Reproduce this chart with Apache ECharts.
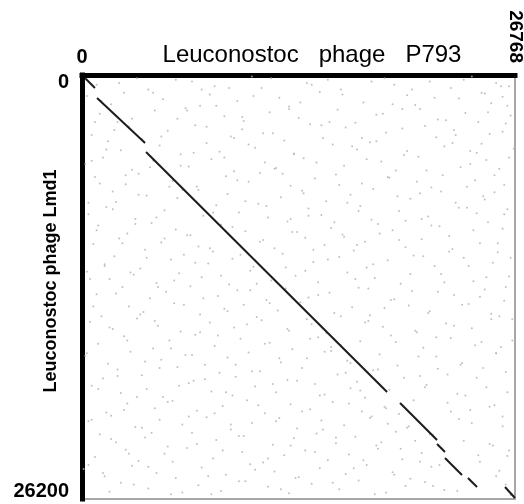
<!DOCTYPE html>
<html>
<head>
<meta charset="utf-8">
<script src="https://cdn.jsdelivr.net/npm/echarts@6/dist/echarts.min.js"></script>
<style>
  html, body { margin: 0; padding: 0; background: #fff; }
  #chart { width: 524px; height: 504px; }
</style>
</head>
<body>
<div id="chart"></div>
<script>
// Dot plot of two Leuconostoc phage genomes (positions in bp)
const queryName = 'Leuconostoc   phage   P793';
const subjectName = 'Leuconostoc phage Lmd1';
const queryLength = 26768;
const subjectLength = 26200;
const xTickLabels = ['0', '26768'];
const yTickLabels = ['0', '26200'];

// Collinear hit segments: start and end as [query bp, subject bp]
const matchStart = [
  [200, 200], [930, 1420], [3960, 4760], [19660, 20270],
  [21950, 22800], [22440, 23670], [23860, 24900], [26150, 25460]
];
const matchEnd = [
  [800, 800], [3900, 4200], [18860, 19590], [21950, 22550],
  [22440, 23300], [23490, 24720], [24420, 25460], [26768, 26140]
];

// Short background word hits, [query kb, subject kb]
const backgroundHitsKb = [
  [2.3,0.5],[5.8,0.3],[9.1,0.8],[11.7,0.2],[14.2,0.6],[17.9,0.4],[20.4,0.9],[23.6,0.3],[25.9,0.7],[7.4,0.9],
  [1.2,1.6],[4.4,1.1],[8.3,1.9],[10.6,1.3],[13.5,1.7],[16.1,1.2],[19.2,1.8],[21.8,1.4],[24.7,1.1],[26.3,1.9],
  [3.1,2.7],[6.5,2.2],[9.9,2.6],[12.8,2.1],[15.3,2.9],[18.6,2.4],[22.5,2.8],[25.1,2.3],[0.8,2.9],[20.9,2.1],
  [2.0,3.4],[4.9,3.8],[7.7,3.2],[11.2,3.6],[14.8,3.1],[17.3,3.9],[19.8,3.3],[23.1,3.7],[26.0,3.5],[9.4,3.9],
  [1.5,4.6],[3.8,4.1],[6.9,4.8],[10.3,4.3],[13.1,4.9],[16.7,4.4],[20.1,4.7],[22.9,4.2],[24.4,4.8],[18.2,4.1],
  [0.6,5.3],[4.2,5.7],[8.8,5.1],[11.9,5.8],[14.5,5.4],[17.6,5.2],[21.3,5.9],[24.0,5.5],[26.4,5.1],[6.1,5.6],
  [2.7,6.2],[5.4,6.9],[9.6,6.5],[12.4,6.1],[15.9,6.8],[18.9,6.3],[20.7,6.6],[23.8,6.9],[25.5,6.2],[1.1,6.7],
  [3.5,7.4],[7.2,7.1],[10.1,7.8],[13.7,7.3],[16.4,7.9],[19.5,7.5],[22.2,7.2],[24.9,7.7],[0.4,7.9],[5.9,7.6],
  [1.9,8.3],[4.6,8.8],[8.1,8.5],[11.4,8.1],[14.0,8.7],[17.1,8.4],[21.0,8.9],[23.3,8.2],[26.1,8.6],[12.9,8.9],
  [0.9,9.6],[3.3,9.2],[6.7,9.9],[9.3,9.4],[13.0,9.7],[15.6,9.1],[18.4,9.8],[21.6,9.3],[24.2,9.6],[20.0,9.0],
  [2.5,10.4],[5.1,10.1],[7.9,10.7],[11.0,10.3],[14.3,10.8],[17.0,10.5],[19.6,10.2],[22.7,10.9],[25.7,10.4],[16.2,10.0],
  [1.4,11.8],[4.0,11.3],[7.0,11.6],[9.8,11.1],[12.6,11.9],[15.2,11.4],[18.0,11.7],[21.1,11.2],[23.9,11.8],[26.5,11.3],
  [3.0,12.2],[5.7,12.7],[8.6,12.4],[10.8,12.9],[13.8,12.1],[16.9,12.6],[20.3,12.3],[22.4,12.8],[25.0,12.5],[0.5,12.6],
  [2.1,13.5],[4.7,13.1],[7.5,13.8],[10.4,13.3],[14.6,13.6],[17.7,13.2],[19.1,13.9],[22.0,13.4],[24.6,13.7],[26.2,13.1],
  [0.7,14.3],[3.6,14.8],[6.3,14.2],[9.0,14.6],[11.6,14.1],[16.0,14.9],[18.7,14.4],[21.4,14.7],[23.5,14.2],[25.8,14.9],
  [1.7,15.6],[4.5,15.2],[7.3,15.9],[10.2,15.4],[12.7,15.7],[13.9,15.1],[17.5,15.3],[20.6,15.8],[23.0,15.5],[25.3,15.1],
  [2.8,16.4],[5.5,16.9],[8.4,16.1],[11.3,16.6],[14.1,16.3],[15.4,16.8],[19.4,16.5],[21.9,16.2],[24.3,16.7],[26.6,16.4],
  [0.3,17.2],[3.9,17.7],[6.8,17.3],[9.5,17.9],[12.2,17.5],[15.0,17.1],[16.6,17.8],[20.8,17.4],[23.4,17.9],[25.6,17.2],
  [2.2,18.6],[4.8,18.1],[7.6,18.8],[10.5,18.3],[13.3,18.9],[16.3,18.4],[18.3,18.2],[19.9,18.7],[22.6,18.5],[24.8,18.1],
  [1.0,19.4],[3.4,19.9],[6.0,19.2],[8.9,19.6],[11.8,19.1],[14.7,19.8],[17.2,19.5],[21.2,19.3],[23.7,19.8],[26.3,19.6],
  [2.6,20.7],[5.3,20.2],[8.2,20.9],[10.9,20.4],[13.6,20.8],[16.5,20.3],[18.8,20.6],[20.5,20.1],[22.8,20.8],[25.2,20.5],
  [0.6,21.3],[3.7,21.8],[6.6,21.1],[9.2,21.6],[12.0,21.4],[14.9,21.9],[17.8,21.2],[20.2,21.7],[24.1,21.5],[26.0,21.1],
  [1.8,22.5],[4.3,22.1],[7.1,22.8],[10.0,22.3],[12.9,22.9],[15.7,22.4],[18.5,22.7],[21.5,22.2],[23.6,22.6],[25.4,22.9],
  [2.9,23.4],[5.6,23.9],[8.7,23.2],[11.5,23.7],[14.4,23.3],[17.4,23.8],[19.7,23.1],[20.9,23.9],[24.5,23.5],[26.4,23.2],
  [1.3,24.6],[4.1,24.2],[7.8,24.8],[10.7,24.4],[13.2,24.9],[16.8,24.3],[19.3,24.7],[22.1,24.1],[25.6,24.8],[0.4,24.1],
  [3.2,25.3],[6.2,25.8],[9.7,25.1],[12.3,25.6],[15.5,25.2],[18.1,25.9],[21.7,25.4],[23.2,25.7],[26.2,25.3],[8.0,25.9],
  [0.9,0.6],[3.4,0.2],[4.1,0.9],[6.8,0.4],[8.2,0.7],[10.5,0.1],[11.1,0.8],[13.9,0.5],[15.2,0.3],[16.0,0.9],[18.7,0.2],[19.3,0.6],[21.5,0.4],[22.8,0.8],[24.1,0.1],[25.6,0.5],[26.4,0.7],
  [0.3,1.3],[1.8,1.8],[2.6,1.1],[5.0,1.5],[7.3,1.9],[7.9,1.2],[9.6,1.6],[12.2,1.4],[12.8,1.95],[14.7,1.05],[17.4,1.7],[20.1,1.25],[20.6,1.85],[23.3,1.45],[24.9,1.15],[25.3,1.75],[26.0,1.35],
  [1.1,2.4],[2.2,2.9],[4.5,2.2],[5.9,2.7],[6.4,2.05],[8.8,2.55],[10.0,2.85],[11.6,2.3],[13.4,2.65],[15.8,2.15],[16.9,2.95],[18.2,2.45],[19.8,2.1],[22.0,2.75],[23.7,2.35],[24.5,2.9],[26.5,2.5],
  [0.6,3.7],[2.9,3.2],[3.7,3.95],[5.3,3.45],[7.0,3.1],[9.2,3.8],[9.9,3.35],[11.8,3.6],[14.1,3.05],[14.9,3.9],[16.3,3.25],[18.8,3.55],[21.2,3.15],[21.9,3.85],[23.0,3.4],[25.2,3.65],[26.2,3.0],
  [1.6,4.1],[2.4,4.65],[4.8,4.35],[6.1,4.9],[7.7,4.2],[8.5,4.75],[10.7,4.5],[12.5,4.05],[13.1,4.85],[15.5,4.3],[17.0,4.6],[17.8,4.15],[19.9,4.95],[22.4,4.4],[24.0,4.7],[24.7,4.25],[26.7,4.55],
  [0.2,5.5],[1.3,5.1],[3.1,5.85],[4.4,5.3],[6.6,5.65],[8.0,5.2],[9.4,5.95],[11.3,5.4],[12.0,5.75],[13.7,5.15],[16.2,5.6],[18.5,5.35],[19.4,5.9],[20.8,5.05],[23.4,5.7],[25.0,5.25],[25.8,5.8],
  [0.8,6.3],[2.7,6.75],[3.5,6.1],[5.6,6.55],[7.1,6.9],[8.9,6.25],[10.3,6.6],[11.0,6.05],[12.9,6.85],[14.4,6.4],[15.7,6.15],[17.3,6.7],[19.0,6.35],[21.6,6.95],[22.3,6.2],[24.3,6.5],[26.1,6.8],
  [1.9,7.2],[2.1,7.85],[4.0,7.45],[6.2,7.1],[6.9,7.7],[9.0,7.35],[10.9,7.95],[12.3,7.55],[13.6,7.15],[15.1,7.8],[16.6,7.4],[18.0,7.05],[20.3,7.65],[20.9,7.3],[23.1,7.9],[24.8,7.5],[25.5,7.25],
  [0.4,8.6],[1.5,8.15],[3.3,8.9],[5.1,8.35],[7.5,8.7],[8.3,8.05],[9.7,8.5],[11.5,8.8],[14.0,8.25],[14.8,8.65],[17.2,8.1],[17.9,8.95],[19.6,8.4],[21.4,8.75],[23.8,8.2],[24.4,8.55],[26.3,8.3],
  [1.0,9.3],[2.8,9.8],[4.3,9.15],[5.8,9.55],[6.5,9.9],[8.6,9.25],[10.1,9.65],[12.7,9.05],[13.3,9.7],[15.4,9.45],[16.1,9.85],[18.3,9.2],[19.2,9.6],[22.1,9.35],[22.7,9.95],[25.1,9.1],[26.0,9.5],
  [0.7,10.45],[2.3,10.1],[3.9,10.8],[4.9,10.35],[7.2,10.6],[8.1,10.9],[11.2,10.2],[11.9,10.7],[13.8,10.05],[15.0,10.5],[16.8,10.85],[17.5,10.3],[20.0,10.65],[21.0,10.15],[22.9,10.75],[24.6,10.4],[25.7,10.95],
  [1.4,11.7],[2.0,11.2],[3.6,11.95],[5.5,11.4],[6.3,11.1],[7.8,11.65],[9.3,11.35],[10.6,11.85],[12.4,11.05],[14.3,11.55],[15.9,11.25],[17.6,11.9],[18.9,11.45],[20.5,11.15],[21.8,11.8],[23.6,11.3],[25.4,11.6],
  [0.3,12.15],[1.7,12.6],[3.2,12.35],[4.6,12.85],[6.0,12.25],[7.4,12.5],[9.1,12.95],[10.4,12.1],[11.7,12.7],[13.2,12.4],[14.6,12.8],[16.4,12.2],[18.1,12.55],[19.7,12.9],[22.2,12.3],[24.2,12.75],[26.4,12.45],
  [0.9,13.55],[2.5,13.1],[4.2,13.8],[5.2,13.4],[6.7,13.05],[8.4,13.65],[9.6,13.3],[11.4,13.9],[12.6,13.2],[14.0,13.75],[15.3,13.45],[17.1,13.15],[19.3,13.85],[20.4,13.35],[23.0,13.6],[24.9,13.25],[26.1,13.95],
  [1.2,14.9],[2.9,14.3],[3.8,14.65],[5.7,14.1],[7.3,14.8],[8.8,14.45],[10.0,14.2],[10.8,14.95],[12.1,14.55],[13.5,14.05],[15.6,14.7],[16.7,14.35],[17.8,14.85],[20.2,14.25],[21.5,14.6],[23.9,14.15],[25.3,14.75],
  [0.5,15.25],[1.9,15.7],[3.4,15.05],[4.7,15.5],[6.1,15.85],[7.9,15.3],[9.4,15.6],[11.1,15.15],[12.8,15.8],[14.2,15.4],[15.1,15.95],[17.7,15.2],[18.6,15.55],[20.7,15.9],[22.5,15.35],[24.1,15.65],[26.6,15.1],
  [1.0,16.6],[2.6,16.15],[4.4,16.9],[5.4,16.4],[7.0,16.05],[8.2,16.75],[9.8,16.3],[11.6,16.55],[13.0,16.95],[14.6,16.2],[16.0,16.7],[17.2,16.45],[19.1,16.1],[21.1,16.85],[22.8,16.25],[24.7,16.5],[25.9,16.8],
  [0.2,17.35],[1.6,17.85],[3.0,17.1],[4.9,17.6],[6.4,17.3],[7.6,17.9],[9.0,17.45],[10.3,17.15],[12.3,17.75],[13.9,17.5],[15.4,17.05],[16.4,17.65],[18.4,17.25],[19.5,17.95],[21.9,17.4],[23.5,17.8],[25.6,17.2],
  [1.3,18.75],[2.2,18.2],[3.7,18.55],[5.9,18.05],[6.9,18.9],[8.5,18.4],[9.5,18.65],[11.0,18.3],[12.7,18.85],[13.6,18.1],[15.8,18.5],[17.0,18.95],[18.0,18.25],[20.9,18.6],[22.0,18.15],[24.4,18.7],[26.2,18.35],
  [0.6,19.2],[2.4,19.65],[4.0,19.4],[5.0,19.9],[6.6,19.05],[8.0,19.55],[9.3,19.8],[10.7,19.25],[12.0,19.6],[14.4,19.1],[15.0,19.75],[16.6,19.35],[17.5,19.95],[19.0,19.45],[21.3,19.15],[23.2,19.7],[25.0,19.3],
  [1.5,20.85],[2.8,20.3],[4.5,20.6],[5.6,20.15],[7.1,20.75],[8.7,20.45],[10.2,20.1],[11.3,20.9],[12.9,20.35],[14.1,20.65],[15.5,20.2],[17.3,20.8],[18.7,20.5],[19.6,20.95],[22.6,20.25],[24.0,20.7],[25.5,20.4],
  [0.4,21.4],[1.8,21.05],[3.3,21.75],[4.8,21.3],[6.2,21.6],[7.7,21.15],[9.2,21.9],[10.5,21.5],[12.2,21.2],[13.3,21.85],[14.8,21.35],[16.2,21.65],[17.9,21.1],[18.9,21.55],[20.1,21.8],[23.3,21.25],[26.0,21.7],
  [1.1,22.2],[2.1,22.7],[3.9,22.4],[5.3,22.95],[6.8,22.1],[8.3,22.55],[9.7,22.3],[11.8,22.85],[13.1,22.45],[14.5,22.15],[15.7,22.75],[16.9,22.35],[18.2,22.9],[19.4,22.05],[20.6,22.6],[21.7,22.25],[25.2,22.8],
  [0.8,23.6],[2.7,23.15],[3.5,23.85],[5.1,23.4],[6.5,23.05],[8.1,23.7],[9.9,23.3],[11.2,23.95],[12.5,23.5],[13.8,23.2],[15.2,23.8],[16.5,23.45],[18.3,23.1],[19.8,23.75],[21.0,23.35],[24.6,23.9],[26.3,23.55],
  [0.1,24.35],[1.4,24.8],[3.1,24.15],[4.6,24.6],[5.8,24.9],[7.4,24.25],[8.9,24.7],[10.4,24.05],[11.9,24.5],[13.4,24.85],[14.7,24.3],[16.3,24.65],[17.6,24.1],[19.2,24.55],[20.3,24.95],[21.6,24.2],[25.8,24.45],
  [1.7,25.75],[2.4,25.2],[4.1,25.55],[5.5,25.9],[7.2,25.35],[8.6,25.7],[10.1,25.1],[11.5,25.45],[12.8,25.85],[14.2,25.25],[15.9,25.6],[17.1,25.05],[18.8,25.8],[20.0,25.4],[21.2,25.15],[22.4,25.65],[26.5,25.95]
];

const FONT = 'Arial, "Liberation Sans", sans-serif';
const chart = echarts.init(document.getElementById('chart'), null, { renderer: 'canvas' });

const hitSegments = matchStart.map((s, i) => ({ coords: [s, matchEnd[i]] }));
const backgroundHits = backgroundHitsKb.map(p => [p[0] * 1000, p[1] * 1000]);

const option = {
  animation: false,
  backgroundColor: '#ffffff',
  grid: {
    left: 82, top: 75, width: 433, height: 424,
    outerBoundsMode: 'none', containLabel: false,
    show: true, borderColor: '#8c8c8c', borderWidth: 1.5, backgroundColor: 'transparent'
  },
  xAxis: [
    {
      type: 'value', position: 'top', min: 0, max: queryLength, interval: queryLength,
      splitLine: { show: false }, axisTick: { show: false },
      axisLine: { show: true, lineStyle: { color: '#000', width: 5, cap: 'square' } },
      axisLabel: {
        margin: 8, fontFamily: FONT, fontWeight: 'bold', fontSize: 20, color: '#000',
        formatter: v => (v === 0 ? xTickLabels[0] : '')
      },
      name: queryName, nameLocation: 'middle', nameGap: 8, nameMoveOverlap: false,
      nameTextStyle: { fontFamily: FONT, fontSize: 24, color: '#000', padding: [0, 0, 0, 27] }
    },
    {
      type: 'value', position: 'top', min: 0, max: queryLength, interval: queryLength,
      splitLine: { show: false }, axisTick: { show: false }, axisLine: { show: false },
      axisLabel: {
        rotate: 90, margin: 12, fontFamily: FONT, fontWeight: 'bold', fontSize: 19, color: '#000',
        formatter: v => (v === queryLength ? xTickLabels[1] : '')
      }
    }
  ],
  yAxis: {
    type: 'value', inverse: true, position: 'left', min: 0, max: subjectLength, interval: subjectLength,
    splitLine: { show: false }, axisTick: { show: false },
    axisLine: { show: true, lineStyle: { color: '#000', width: 5, cap: 'square' } },
    axisLabel: {
      margin: 13, fontFamily: FONT, fontWeight: 'bold', fontSize: 20, color: '#000',
      formatter: v => (v === 0 ? '{first|' + yTickLabels[0] + '}' : '{last|' + yTickLabels[1] + '}'),
      rich: {
        first: { fontFamily: FONT, fontWeight: 'bold', fontSize: 20, color: '#000', padding: [14, 0, 0, 0] },
        last: { fontFamily: FONT, fontWeight: 'bold', fontSize: 20, color: '#000', padding: [0, 0, 16, 0] }
      }
    },
    name: subjectName, nameLocation: 'middle', nameGap: 22, nameRotate: 90, nameMoveOverlap: false,
    nameTextStyle: { fontFamily: FONT, fontWeight: 'bold', fontSize: 18, color: '#000', padding: [0, 0, 0, 12] }
  },
  series: [
    {
      type: 'scatter', xAxisIndex: 0, yAxisIndex: 0, data: backgroundHits,
      symbol: 'circle', symbolSize: 2, silent: true,
      itemStyle: { color: '#b0b0b0' }, z: 1
    },
    {
      type: 'lines', coordinateSystem: 'cartesian2d', xAxisIndex: 0, yAxisIndex: 0,
      polyline: false, data: hitSegments, silent: true,
      lineStyle: { color: '#1c1c1c', width: 2, opacity: 1 }, z: 3
    }
  ]
};

chart.setOption(option);
</script>
</body>
</html>
